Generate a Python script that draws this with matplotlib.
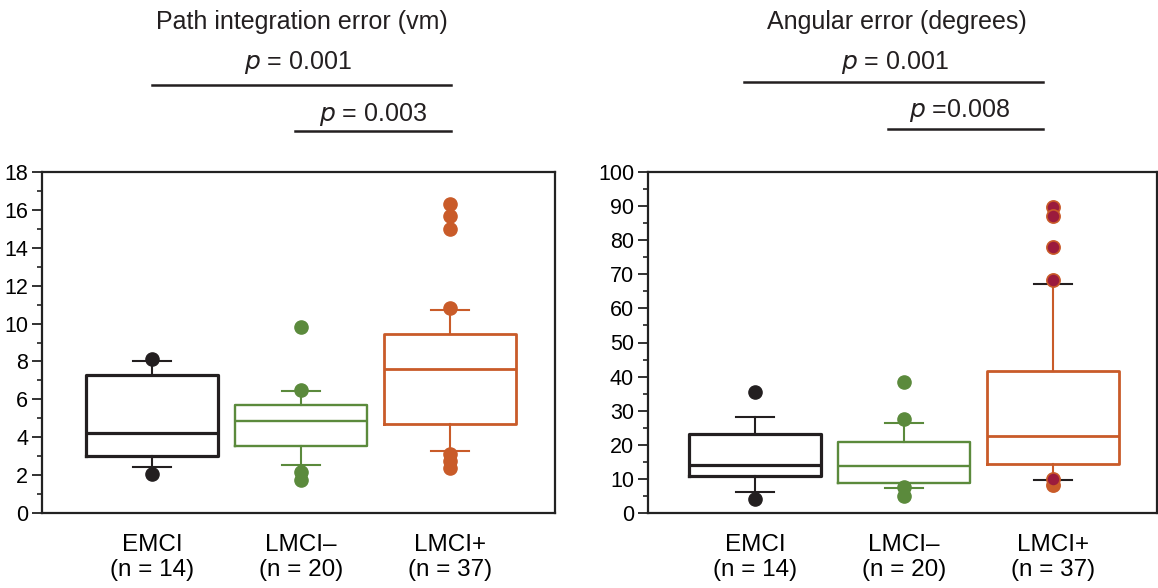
import matplotlib
matplotlib.use('Agg')
import matplotlib.pyplot as plt
from matplotlib.lines import Line2D
from matplotlib.ticker import MultipleLocator

plt.rcParams['font.family'] = ['Liberation Sans', 'DejaVu Sans']

groups = ['EMCI\n(n = 14)', 'LMCI\u2013\n(n = 20)', 'LMCI+\n(n = 37)']

# path integration error (vm): box stats
path_q1 = [3.02, 3.56, 4.69]
path_med = [4.21, 4.86, 7.59]
path_q3 = [7.29, 5.70, 9.45]
path_wlo = [2.44, 2.51, 3.25]
path_whi = [8.04, 6.46, 10.70]
path_points = [[8.13, 2.07],
               [9.83, 6.50, 2.19, 1.75],
               [16.33, 15.66, 14.99, 10.80, 3.10, 2.75, 2.35]]

# angular error (degrees)
ang_q1 = [10.9, 8.8, 14.4]
ang_med = [14.1, 13.9, 22.7]
ang_q3 = [23.2, 20.7, 41.7]
ang_wlo = [6.2, 7.3, 9.7]
ang_whi = [28.1, 26.5, 67.1]
ang_points = [[35.4, 4.1],
              [38.4, 27.5, 7.5, 5.1],
              [89.6, 87.0, 78.0, 68.3, 8.3, 9.9]]

BLACK = '#231f20'
GREEN = '#5b8a3c'
ORANGE = '#c95b29'
CRIMSON = '#9b1b3d'
colors = [BLACK, GREEN, ORANGE]
box_lw = [2.3, 1.7, 2.0]

W, H = 1158, 588
fig = plt.figure(figsize=(W / 100, H / 100), dpi=100)


def px_rect(x0, y0, x1, y1):
    return [x0 / W, 1 - y1 / H, (x1 - x0) / W, (y1 - y0) / H]


def draw_panel(ax, q1, med, q3, wlo, whi, pts, ymax, major, minor, xlim, right_panel):
    stats = []
    for i in range(3):
        stats.append(dict(q1=q1[i], med=med[i], q3=q3[i], whislo=wlo[i], whishi=whi[i], fliers=[]))
    bp = ax.bxp(stats, positions=[1, 2, 3], widths=0.88, capwidths=0.25,
                showfliers=False, patch_artist=False)
    for i in range(3):
        c = colors[i]
        bp['boxes'][i].set(color=c, linewidth=box_lw[i])
        bp['medians'][i].set(color=c, linewidth=box_lw[i])
        for w in bp['whiskers'][2 * i:2 * i + 2]:
            w.set(color=c, linewidth=1.5)
        for cap in bp['caps'][2 * i:2 * i + 2]:
            cap_c = BLACK if (right_panel and i == 2) else c
            cap.set(color=cap_c, linewidth=1.5)
        if right_panel and i == 2:
            for j, v in enumerate(pts[i]):
                face = ORANGE if j == 4 else CRIMSON
                ax.plot(i + 1, v, 'o', ms=9.5, mfc=face, mec=ORANGE, mew=1.2, zorder=4)
        else:
            ax.plot([i + 1] * len(pts[i]), pts[i], 'o', ms=9.5, color=c, mec=c, zorder=4)

    ax.set_ylim(0, ymax)
    ax.set_xlim(*xlim)
    ax.yaxis.set_major_locator(MultipleLocator(major))
    ax.yaxis.set_minor_locator(MultipleLocator(minor))
    ax.tick_params(axis='y', which='major', length=7, width=1.3, labelsize=15.5, color='#222222', pad=3)
    ax.tick_params(axis='y', which='minor', length=3.5, width=1.2, color='#222222')
    ax.set_xticks([1, 2, 3])
    ax.set_xticklabels(groups, fontsize=17.5)
    ax.tick_params(axis='x', length=0, pad=15)
    for s in ax.spines.values():
        s.set_linewidth(1.6)
        s.set_color('#222222')


ax1 = fig.add_axes(px_rect(42, 172, 555, 513))
draw_panel(ax1, path_q1, path_med, path_q3, path_wlo, path_whi, path_points,
           18, 2, 1, (0.262, 3.705), False)

ax2 = fig.add_axes(px_rect(648, 172, 1157, 513))
draw_panel(ax2, ang_q1, ang_med, ang_q3, ang_wlo, ang_whi, ang_points,
           100, 10, 5, (0.282, 3.698), True)


def ftext(x, y, s):
    fig.text(x / W, 1 - y / H, s, ha='center', va='center', fontsize=18, color=BLACK)


def fline(x0, x1, y):
    fig.add_artist(Line2D([x0 / W, x1 / W], [1 - y / H, 1 - y / H], color=BLACK, lw=1.8))


# significance annotations, left panel
ftext(302, 22, 'Path integration error (vm)')
ftext(298, 63, '$\\it{p}$ = 0.001')
fline(152, 451, 85)
ftext(373, 115, '$\\it{p}$ = 0.003')
fline(295, 451, 131)

# right panel
ftext(897, 22, 'Angular error (degrees)')
ftext(895, 62, '$\\it{p}$ = 0.001')
fline(744, 1043, 82)
ftext(960, 111, '$\\it{p}$ =0.008')
fline(888, 1043, 129)

fig.savefig('out.png', dpi=100)
